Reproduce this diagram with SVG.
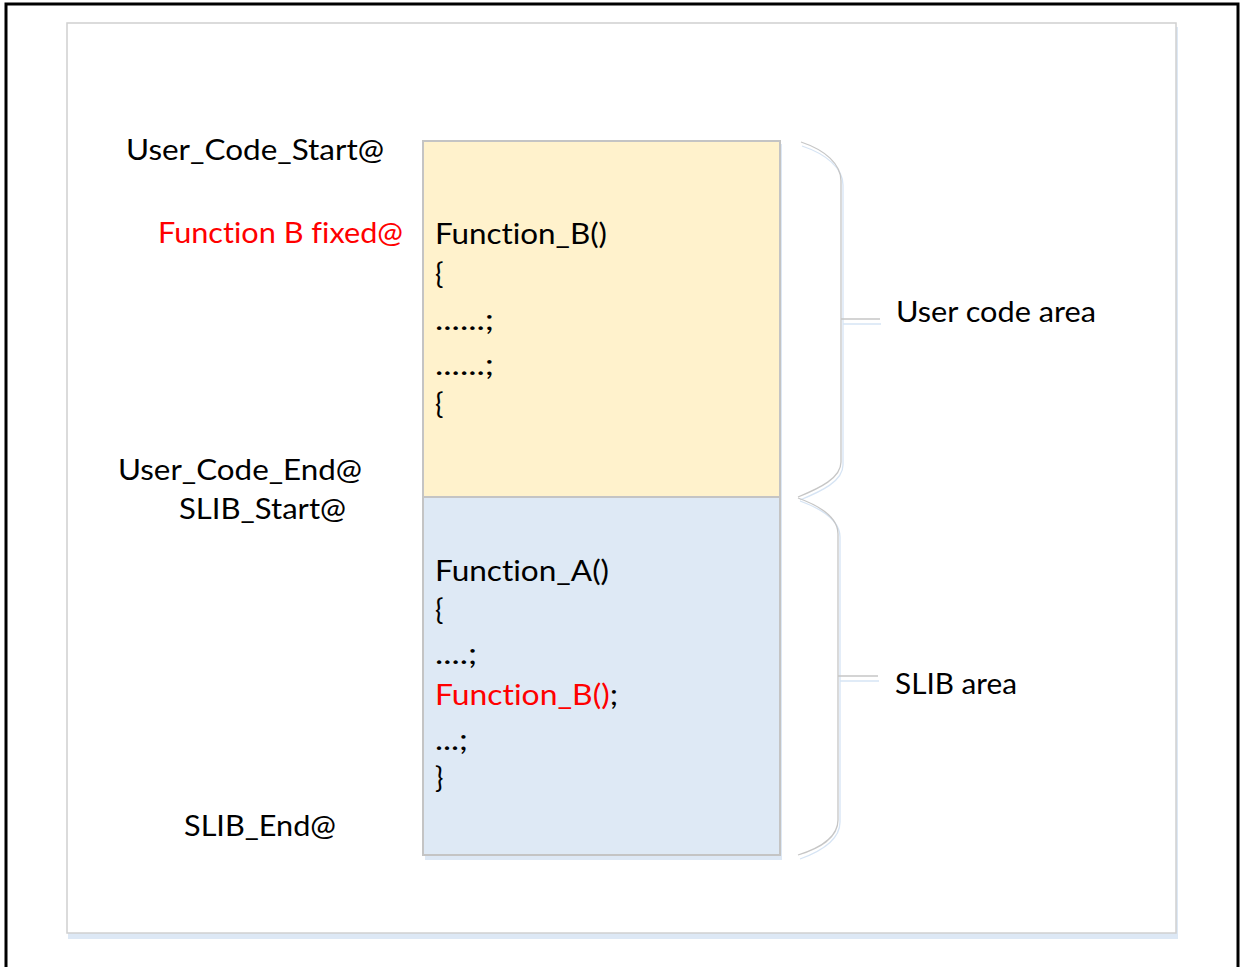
<svg xmlns="http://www.w3.org/2000/svg" width="1243" height="967" viewBox="0 0 1243 967">
<style>
.t{font-family:Lato,"Liberation Sans",sans-serif;font-size:28px;fill:#000;font-variant-ligatures:none;font-feature-settings:"liga" 0,"clig" 0,"dlig" 0}
.r{fill:#ff0000}
.g{fill:none;stroke:#c6c6c6;stroke-width:1.3}
.b{fill:none;stroke:#d6e4f4;stroke-width:1.3}
</style>
<rect x="0" y="0" width="1243" height="967" fill="#fff"/>
<rect x="6" y="4" width="1232" height="975" fill="none" stroke="#000" stroke-width="3"/>
<g id="frame">
<rect x="68" y="27" width="1110" height="912" fill="#dde8f5"/>
<rect x="67" y="23" width="1109" height="910" fill="#fff" stroke="#d0d0d0" stroke-width="1.5"/>
</g>
<g id="user-code-box">
<rect x="425" y="144" width="357" height="356" fill="#dde8f5"/>
<rect x="423" y="141" width="357" height="356" fill="#fff2cc" stroke="#c4c4c4" stroke-width="2"/>
<text class="t" x="435" y="244" textLength="172" lengthAdjust="spacingAndGlyphs">Function_B()</text>
<text class="t" x="435" y="284">{</text>
<text class="t" x="435" y="330" textLength="59" lengthAdjust="spacingAndGlyphs">......;</text>
<text class="t" x="435" y="375" textLength="59" lengthAdjust="spacingAndGlyphs">......;</text>
<text class="t" x="435" y="414">{</text>
</g>
<g id="slib-box">
<rect x="425" y="500" width="357" height="360" fill="#dde8f5"/>
<rect x="423" y="497" width="357" height="358" fill="#dee9f5" stroke="#c4c4c4" stroke-width="2"/>
<text class="t" x="435" y="581" textLength="174" lengthAdjust="spacingAndGlyphs">Function_A()</text>
<text class="t" x="435" y="620">{</text>
<text class="t" x="435" y="664" textLength="42" lengthAdjust="spacingAndGlyphs">....;</text>
<text class="t" x="435" y="705" textLength="183" lengthAdjust="spacingAndGlyphs"><tspan class="r">Function_B()</tspan>;</text>
<text class="t" x="435" y="750" textLength="33" lengthAdjust="spacingAndGlyphs">...;</text>
<text class="t" x="435" y="788">}</text>
</g>
<g id="address-labels">
<text class="t" x="126" y="160" textLength="258" lengthAdjust="spacingAndGlyphs">User_Code_Start@</text>
<text class="t r" x="158" y="243" textLength="245" lengthAdjust="spacingAndGlyphs">Function B fixed@</text>
<text class="t" x="118" y="480" textLength="244" lengthAdjust="spacingAndGlyphs">User_Code_End@</text>
<text class="t" x="179" y="519" textLength="167" lengthAdjust="spacingAndGlyphs">SLIB_Start@</text>
<text class="t" x="184" y="836" textLength="152" lengthAdjust="spacingAndGlyphs">SLIB_End@</text>
</g>
<g id="connectors">
<path class="b" d="M802,146 C826,154 843,168 843,185 L843,465 C843,481 822,491 800,500"/>
<path class="g" d="M801,142 C825,150 841,164 841,181 L841,462 C841,478 820,488 798,497"/>
<path class="b" d="M843,324 L881,324"/>
<path class="g" d="M841,319 L880,319"/>
<path class="b" d="M800,501 C822,509 840,521 840,537 L840,822 C840,840 822,851 800,859"/>
<path class="g" d="M798,498 C820,506 838,518 838,534 L838,820 C838,838 820,848 798,855"/>
<path class="b" d="M840,681 L879,681"/>
<path class="g" d="M838,676 L878,676"/>
</g>
<g id="area-labels">
<text class="t" x="896" y="322" textLength="200" lengthAdjust="spacingAndGlyphs">User code area</text>
<text class="t" x="895" y="694" textLength="122" lengthAdjust="spacingAndGlyphs">SLIB area</text>
</g>
</svg>
